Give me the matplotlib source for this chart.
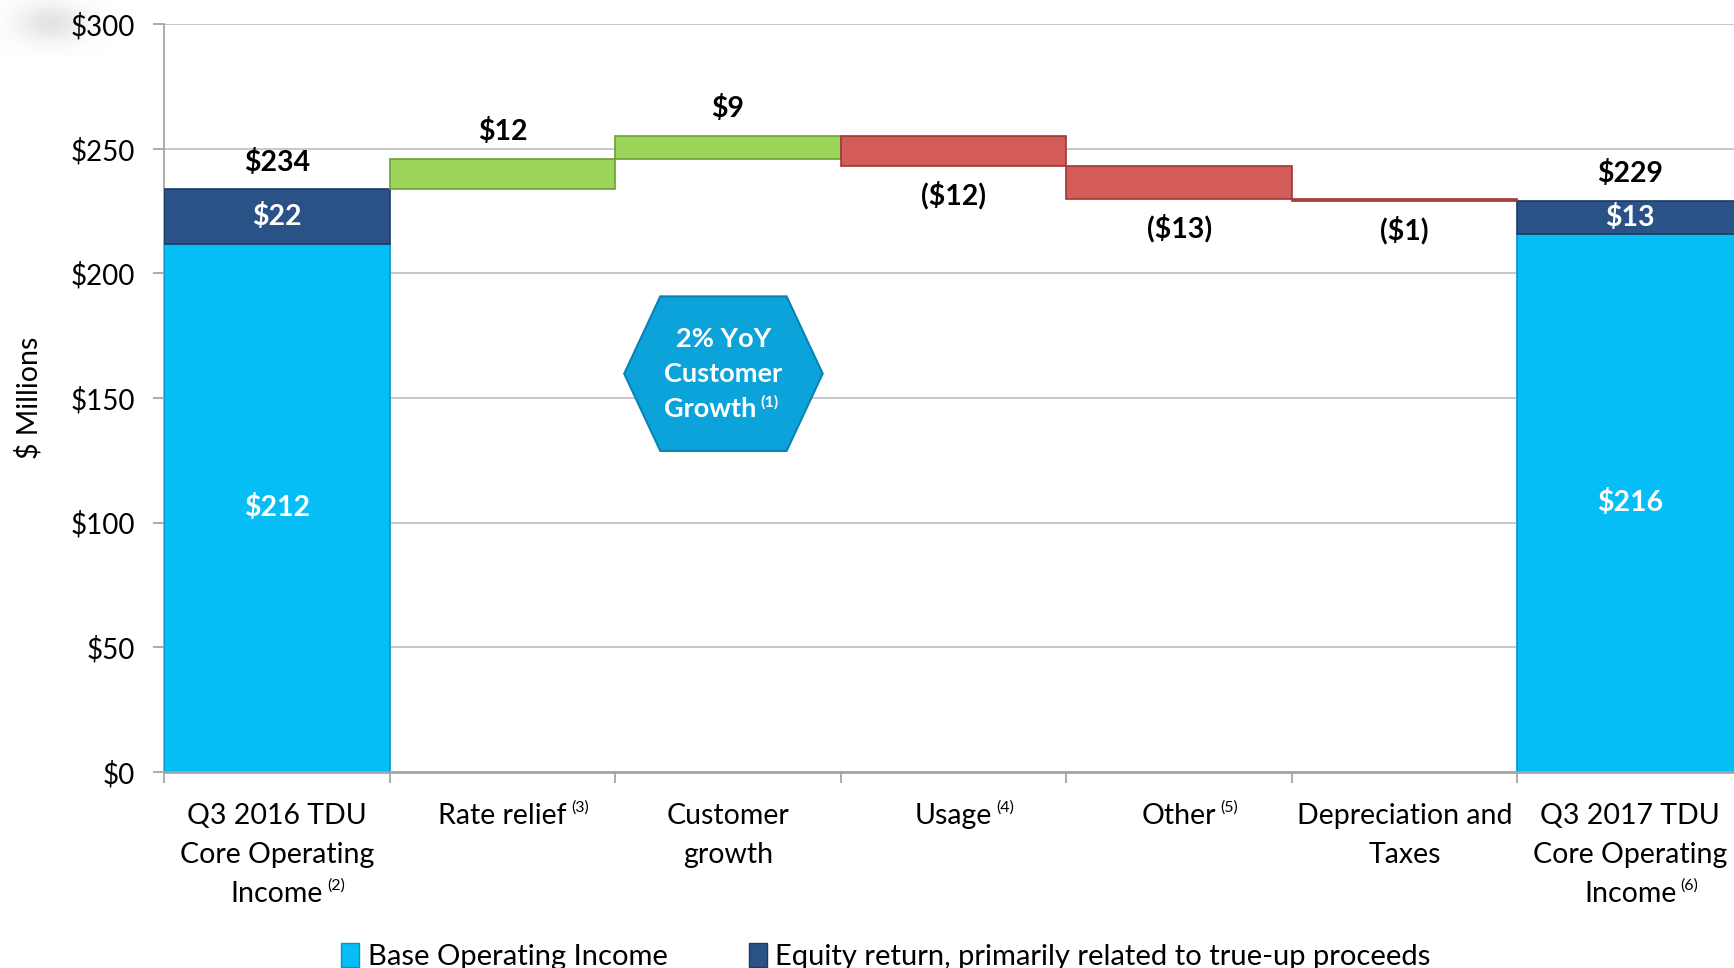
import matplotlib
matplotlib.use('Agg')
import numpy as np
import matplotlib.pyplot as plt
from matplotlib.patches import Patch, Polygon

plt.rcParams['font.family'] = ['Lato', 'DejaVu Sans']

# Data ($ millions)
categories = [
    ['Q3 2016 TDU', 'Core Operating', 'Income'],
    ['Rate relief'],
    ['Customer', 'growth'],
    ['Usage'],
    ['Other'],
    ['Depreciation and', 'Taxes'],
    ['Q3 2017 TDU', 'Core Operating', 'Income'],
]
footnotes = ['(2)', '(3)', None, '(4)', '(5)', None, '(6)']
start_base, start_equity = 212, 22
end_base, end_equity = 216, 13
changes = [12, 9, -12, -13, -1]
change_labels = ['$12', '$9', '($12)', '($13)', '($1)']

c_base = '#06BEF6'
c_base_edge = '#0494C4'
c_equity = '#2A5287'
c_equity_edge = '#1B3A63'
c_up = '#9BD65A'
c_up_edge = '#6C9F38'
c_down = '#D35B58'
c_down_edge = '#9E3835'

fig = plt.figure(figsize=(17.34, 9.68), dpi=100)
ax = fig.add_axes([0.0946, 0.2025, 0.9106, 0.7725])

# faint grey smudge in the top-left corner of the slide
sm = fig.add_axes([0, 0.94, 0.065, 0.06])
sm.set_zorder(-1)
yy, xx = np.mgrid[0:1:60j, 0:1:100j]
blob = np.exp(-(((xx - 0.45) / 0.45) ** 2 + ((yy - 0.4) / 0.5) ** 2) * 2.2)
img = np.zeros((60, 100, 4))
img[..., :3] = 0.82
img[..., 3] = blob * 0.6
sm.imshow(img, aspect='auto', interpolation='bilinear')
sm.axis('off')

lab_size = 20.5
tick_size = 20

# Start and end stacked bars
x_start, x_end = 0, len(categories) - 1
ax.bar(x_start, start_base, width=1.0, color=c_base, edgecolor=c_base_edge, linewidth=1.2, zorder=3)
ax.bar(x_start, start_equity, bottom=start_base, width=1.0, color=c_equity, edgecolor=c_equity_edge, linewidth=1.2, zorder=3)
ax.bar(x_end, end_base, width=1.0, color=c_base, edgecolor=c_base_edge, linewidth=1.2, zorder=3)
ax.bar(x_end, end_equity, bottom=end_base, width=1.0, color=c_equity, edgecolor=c_equity_edge, linewidth=1.2, zorder=3)

start_total = start_base + start_equity
end_total = end_base + end_equity

# Floating change bars
level = start_total
lab_kw = dict(ha='center', va='center', fontsize=lab_size, fontweight='bold', textcoords='offset points')
for i, (d, lab) in enumerate(zip(changes, change_labels)):
    x = i + 1
    bottom = level if d >= 0 else level + d
    col, edg = (c_up, c_up_edge) if d >= 0 else (c_down, c_down_edge)
    ax.bar(x, abs(d), bottom=bottom, width=1.0, color=col, edgecolor=edg, linewidth=1.2, zorder=3)
    if d >= 0:
        ax.annotate(lab, xy=(x, bottom + abs(d)), xytext=(0, 20), color='black', **lab_kw)
    else:
        ax.annotate(lab, xy=(x, bottom), xytext=(0, -21), color='black', **lab_kw)
    level += d

# Labels on the stacked bars
ax.annotate(f'${start_total}', xy=(x_start, start_total), xytext=(0, 19), color='black', **lab_kw)
ax.annotate(f'${end_total}', xy=(x_end, end_total), xytext=(0, 20), color='black', **lab_kw)
for x, base, eq in [(x_start, start_base, start_equity), (x_end, end_base, end_equity)]:
    ax.text(x, base + eq / 2, f'${eq}', ha='center', va='center',
            fontsize=lab_size, fontweight='bold', color='white', zorder=4)
    ax.text(x, base / 2, f'${base}', ha='center', va='center',
            fontsize=lab_size, fontweight='bold', color='white', zorder=4)

# Axes styling
ax.set_xlim(-0.5, len(categories) - 0.5)
ax.set_ylim(0, 300)
ax.set_yticks(np.arange(0, 301, 50))
ax.set_yticklabels([f'${v}' for v in range(0, 301, 50)], fontsize=tick_size)
ax.yaxis.grid(True, color='#C4C4C4', linewidth=1.3, zorder=0)
ax.set_axisbelow(True)
for s in ['top', 'right']:
    ax.spines[s].set_visible(False)
ax.spines['left'].set_color('#A6A6A6')
ax.spines['left'].set_linewidth(1.3)
ax.spines['bottom'].set_color('#A6A6A6')
ax.spines['bottom'].set_linewidth(2)
ax.spines['bottom'].set_zorder(5)
ax.tick_params(axis='y', length=8, width=1.3, color='#A6A6A6', pad=13)
ax.set_xticks([])
ax.set_xticks(np.arange(-0.5, len(categories), 1.0), minor=True)
ax.tick_params(axis='x', which='minor', length=8, width=1.3, color='#A6A6A6', direction='out')
ax.set_ylabel('$ Millions', fontsize=20.5)
ax.yaxis.set_label_coords(-0.077, 0.5)

# Category labels with footnote superscripts
xt = ax.get_xaxis_transform()
for i, (lines, fn) in enumerate(zip(categories, footnotes)):
    last = None
    for k, line in enumerate(lines):
        last = ax.annotate(line, xy=(i, 0), xycoords=xt, xytext=(0, -31.5 - 28.3 * k),
                           textcoords='offset points', ha='center', va='center',
                           fontsize=20.5, annotation_clip=False)
    if fn:
        ax.annotate(fn, xy=(1, 1), xycoords=last, xytext=(3, 2), textcoords='offset points',
                    ha='left', va='top', fontsize=11.5)

# Hexagon callout
hx, hy = 1.98, 159.8
hex_pts = [(hx - 0.44, hy), (hx - 0.28, hy + 31), (hx + 0.28, hy + 31),
           (hx + 0.44, hy), (hx + 0.28, hy - 31), (hx - 0.28, hy - 31)]
ax.add_patch(Polygon(hex_pts, closed=True, facecolor='#0BA3DA', edgecolor='#0A82B4',
                     linewidth=1.5, zorder=4))
hex_kw = dict(ha='center', va='center', fontsize=19.5, fontweight='bold', color='white', zorder=5)
ax.text(hx, hy + 14, '2% YoY', **hex_kw)
ax.text(hx, hy, 'Customer', **hex_kw)
g = ax.text(hx - 0.06, hy - 14, 'Growth', **hex_kw)
ax.annotate('(1)', xy=(1, 1), xycoords=g, xytext=(3, 1), textcoords='offset points',
            ha='left', va='top', fontsize=11.5, fontweight='bold', color='white', zorder=5)

# Legend
handles = [Patch(facecolor=c_base, edgecolor=c_base_edge, label='Base Operating Income'),
           Patch(facecolor=c_equity, edgecolor=c_equity_edge,
                 label='Equity return, primarily related to true-up proceeds')]
fig.legend(handles=handles, loc='center', bbox_to_anchor=(0.511, 0.012), ncol=2,
           frameon=False, fontsize=21, handlelength=0.6, handleheight=0.9,
           handletextpad=0.3, columnspacing=2.8)

fig.savefig('out.png', dpi=100)
